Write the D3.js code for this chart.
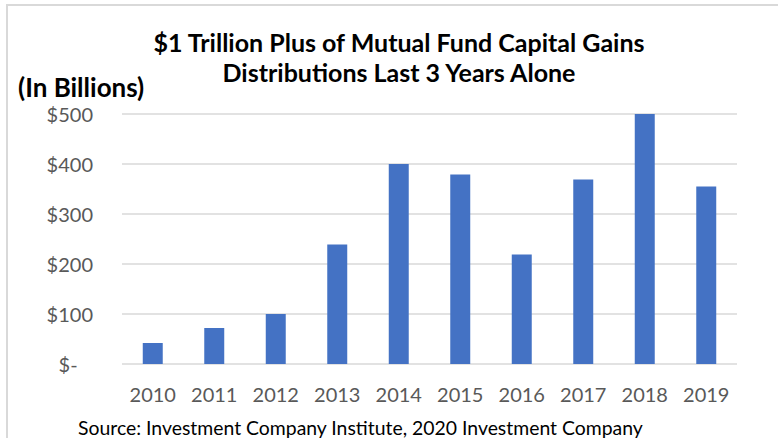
<!DOCTYPE html>
<html>
<head>
<meta charset="utf-8">
<script src="https://cdn.jsdelivr.net/npm/d3@7"></script>
<style>
  html, body { margin: 0; padding: 0; background: #fff; }
  svg { display: block; }
</style>
</head>
<body>
<div id="chart"></div>
<script>
// data (billions of dollars)
const years = ['2010', '2011', '2012', '2013', '2014', '2015', '2016', '2017', '2018', '2019'];
const gains = [42, 72, 100, 239, 400, 379, 219, 369, 500, 355];
const yTicks = [0, 100, 200, 300, 400, 500];

const width = 778, height = 438;
const margin = { top: 114, right: 41, bottom: 74, left: 122 };
const plotW = width - margin.left - margin.right;
const plotH = height - margin.top - margin.bottom;

const svg = d3.select('#chart').append('svg')
    .attr('width', width)
    .attr('height', height);

// outer frame (top and left edges only are visible)
svg.append('path')
    .attr('d', `M7,${height} V5 H${width}`)
    .attr('fill', 'none')
    .attr('stroke', '#d9d9d9')
    .attr('stroke-width', 2);

const g = svg.append('g')
    .attr('transform', `translate(${margin.left},${margin.top})`);

const x = d3.scaleBand()
    .domain(years)
    .range([0, plotW])
    .paddingInner(0.675)
    .paddingOuter(0.3375);

const y = d3.scaleLinear()
    .domain([0, 500])
    .range([plotH, 0]);

// gridlines
g.append('g')
    .selectAll('line')
    .data(yTicks)
    .join('line')
    .attr('x1', 0)
    .attr('x2', plotW)
    .attr('y1', d => y(d))
    .attr('y2', d => y(d))
    .attr('stroke', '#d9d9d9')
    .attr('stroke-width', 1.5);

// y axis labels ("$-" is padded like the accounting format)
const yAxis = g.append('g')
    .call(d3.axisLeft(y)
        .tickValues(yTicks)
        .tickSize(0)
        .tickPadding(29)
        .tickFormat(d => d === 0 ? '$-   ' : '$' + d));
yAxis.select('.domain').remove();
yAxis.selectAll('text')
    .style('font-family', 'Lato, sans-serif')
    .style('font-size', '20px')
    .style('fill', '#595959')
    .attr('dy', '0.35em')
    .attr('xml:space', 'preserve')
    .style('white-space', 'pre');

// bars
g.append('g')
    .selectAll('rect')
    .data(years)
    .join('rect')
    .attr('x', d => x(d))
    .attr('y', (d, i) => y(gains[i]))
    .attr('width', x.bandwidth())
    .attr('height', (d, i) => plotH - y(gains[i]))
    .attr('fill', '#4472c4');

// x axis labels
const xAxis = g.append('g')
    .attr('transform', `translate(0,${plotH})`)
    .call(d3.axisBottom(x).tickSize(0).tickPadding(24));
xAxis.select('.domain').remove();
xAxis.selectAll('text')
    .style('font-family', 'Lato, sans-serif')
    .style('font-size', '20px')
    .style('fill', '#595959');

// titles
const title = svg.append('text')
    .attr('text-anchor', 'middle')
    .style('font-family', 'Lato, sans-serif')
    .style('font-weight', 'bold')
    .style('font-size', '25px')
    .style('fill', '#000');
title.append('tspan').attr('x', 399).attr('y', 52).text('$1 Trillion Plus of Mutual Fund Capital Gains');
title.append('tspan').attr('x', 399).attr('y', 82).text('Distributions Last 3 Years Alone');

svg.append('text')
    .attr('x', 18)
    .attr('y', 97)
    .style('font-family', 'Lato, sans-serif')
    .style('font-weight', 'bold')
    .style('font-size', '26px')
    .style('fill', '#000')
    .text('(In Billions)');

svg.append('text')
    .attr('x', 78)
    .attr('y', 435)
    .style('font-family', 'Lato, sans-serif')
    .style('font-size', '19.4px')
    .style('fill', '#000')
    .text('Source: Investment Company Institute, 2020 Investment Company');
</script>
</body>
</html>
